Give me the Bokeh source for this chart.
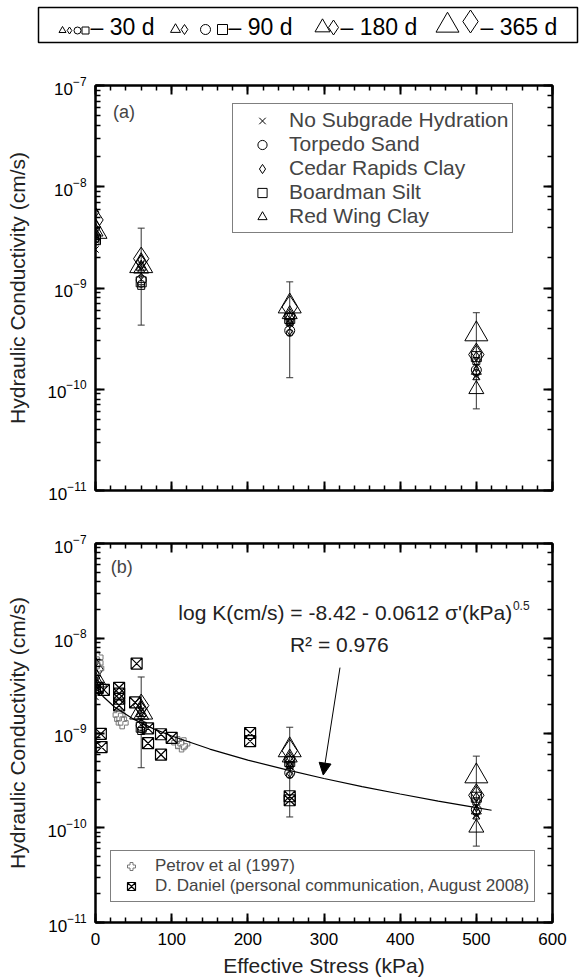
from bokeh.plotting import figure
from bokeh.models import (Range1d, LogAxis, LinearAxis, SingleIntervalTicker, LogTicker,
                          Legend, LegendItem, Label, Arrow, NormalHead, Whisker, TeeHead,
                          ColumnDataSource, CustomJSTickFormatter)
from bokeh.layouts import column
from bokeh.embed import file_html
from bokeh.resources import INLINE

FONT = "Liberation Sans"

# ---------------- data ----------------
stress = [0, 60, 255, 500]
nsh = [2.4e-9, 1.7e-9, 4.4e-10, 1.35e-10]
torpedo_30 = [3.0e-9, 1.1e-9, 3.6e-10, 1.45e-10]
torpedo_90 = [3.2e-9, 1.2e-9, 3.8e-10, 1.55e-10]
cedar_30 = [3.4e-9, 1.3e-9, 3.7e-10, 1.6e-10]
cedar_90 = [5.6e-9, 1.9e-9, 4.5e-10, 2.1e-10]
cedar_180 = [4.0e-9, 1.8e-9, 5.3e-10, 2.3e-10]
cedar_365 = [4.7e-9, 1.95e-9, 6.5e-10, 2.2e-10]
boardman_30 = [2.9e-9, 1.05e-9, 4.6e-10, 1.9e-10]
boardman_90 = [3.0e-9, 1.15e-9, 5.0e-10, 2.1e-10]
redwing_30 = [3.3e-9, 1.5e-9, 4.6e-10, 1.3e-10]
redwing_90 = [3.5e-9, 1.6e-9, 5.2e-10, 1.5e-10]
redwing_180 = [3.6e-9, 1.55e-9, 5.5e-10, 1.0e-10]
redwing_365 = [3.6e-9, 1.65e-9, 6.6e-10, 3.5e-10]

err_stress = [60, 255, 500]
err_low = [4.3e-10, 1.3e-10, 6.4e-11]
err_high = [3.9e-9, 1.15e-9, 5.7e-10]

petrov_stress = [2, 2, 3, 31, 33, 35, 108, 113, 116]
petrov_k = [6.3e-9, 5.5e-9, 4.8e-9, 1.55e-9, 1.4e-9, 1.28e-9, 7.9e-10, 7.3e-10, 7.7e-10]

daniel_stress = [3, 11, 31, 31, 31, 31, 52, 54, 7, 8, 69, 69, 86, 100, 86, 203, 203, 255, 255]
daniel_k = [3.0e-9, 2.85e-9, 3.0e-9, 2.6e-9, 2.3e-9, 1.95e-9, 2.1e-9, 5.4e-9, 9.8e-10, 7.1e-10,
            1.12e-9, 7.8e-10, 9.7e-10, 8.9e-10, 5.9e-10, 1.0e-9, 8.2e-10, 2.15e-10, 1.95e-10]

fit_stress = [5, 10, 25, 50, 75, 100, 150, 200, 250, 300, 350, 400, 450, 500, 520]
fit_k = [2.77e-9, 2.43e-9, 1.88e-9, 1.40e-9, 1.12e-9, 9.29e-10, 6.77e-10, 5.18e-10,
         4.10e-10, 3.31e-10, 2.72e-10, 2.27e-10, 1.91e-10, 1.63e-10, 1.53e-10]

durations = ["30 d", "90 d", "180 d", "365 d"]
dur_size = {"30 d": 7, "90 d": 10, "180 d": 15, "365 d": 23}

series = [
    ("Torpedo Sand", "circle", {"30 d": torpedo_30, "90 d": torpedo_90}),
    ("Cedar Rapids Clay", "diamond", {"30 d": cedar_30, "90 d": cedar_90, "180 d": cedar_180, "365 d": cedar_365}),
    ("Boardman Silt", "square", {"30 d": boardman_30, "90 d": boardman_90}),
    ("Red Wing Clay", "triangle", {"30 d": redwing_30, "90 d": redwing_90, "180 d": redwing_180, "365 d": redwing_365}),
]


def no_frame_align(f):
    if "frame_align" in f.properties():
        f.frame_align = False


def style_axis(ax, labels=True):
    ax.axis_line_width = 2
    ax.major_tick_in = 9
    ax.major_tick_out = 0
    ax.minor_tick_in = 5
    ax.minor_tick_out = 0
    ax.major_tick_line_width = 2
    ax.minor_tick_line_width = 1.5
    ax.major_label_text_font = FONT
    ax.major_label_text_font_size = "17px"
    ax.major_label_text_color = "black"
    ax.axis_label_text_font = FONT
    ax.axis_label_text_font_size = "21px"
    ax.axis_label_text_font_style = "normal"
    ax.axis_label_text_color = "#222222"
    if not labels:
        ax.formatter = CustomJSTickFormatter(code="return ''")
        ax.major_label_standoff = 0


def make_panel(height, top, bottom, xlabels):
    p = figure(width=585, height=height, x_range=Range1d(0, 600), y_range=Range1d(1e-11, 1e-7),
               y_axis_type="log", output_backend="svg", toolbar_location=None,
               min_border_left=95, min_border_right=33, min_border_top=top, min_border_bottom=bottom)
    no_frame_align(p)
    p.grid.visible = False
    p.outline_line_color = "black"
    p.outline_line_width = 2
    p.background_fill_color = "white"
    p.border_fill_color = "white"

    xb = p.xaxis[0]
    xb.ticker = SingleIntervalTicker(interval=100, num_minor_ticks=5)
    style_axis(xb, labels=xlabels)
    if xlabels:
        xb.axis_label = "Effective Stress (kPa)"
        xb.major_label_standoff = 10
        xb.axis_label_standoff = 6

    yl = p.yaxis[0]
    style_axis(yl)
    yl.axis_label = "Hydraulic Conductivity (cm/s)"
    yl.major_label_standoff = 9
    yl.axis_label_standoff = 15

    xt = LinearAxis(ticker=SingleIntervalTicker(interval=100, num_minor_ticks=5))
    style_axis(xt, labels=False)
    p.add_layout(xt, "above")
    yr = LogAxis(ticker=LogTicker())
    style_axis(yr, labels=False)
    p.add_layout(yr, "right")

    wsrc = ColumnDataSource(dict(x=err_stress, lower=err_low, upper=err_high))
    w = Whisker(base="x", lower="lower", upper="upper", source=wsrc, dimension="height",
                line_color="#333333", line_width=1,
                upper_head=TeeHead(size=7, line_color="#333333", line_width=1),
                lower_head=TeeHead(size=7, line_color="#333333", line_width=1))
    w.level = "underlay"
    p.add_layout(w)

    rends = {}
    for name, marker, data in series:
        for d in durations:
            if d in data:
                r = p.scatter(stress, data[d], marker=marker, size=dur_size[d], line_color="black",
                              fill_color=None, line_width=1)
                rends[(name, d)] = r
    r_nsh = p.scatter(stress, nsh, marker="x", size=9, line_color="black", line_width=1)
    rends["nsh"] = r_nsh
    return p, rends


# ---------------- top legend strip ----------------
top = figure(width=585, height=52, x_range=Range1d(0, 585), y_range=Range1d(52, 0),
             output_backend="svg", toolbar_location=None, min_border=0)
no_frame_align(top)
top.axis.visible = False
top.grid.visible = False
top.outline_line_color = None
top.quad(left=[38], right=[577], top=[7], bottom=[42], fill_color=None, line_color="black", line_width=1.5)

lg_groups = [
    ("30 d", [("triangle", 62, 30), ("diamond", 69, 30), ("circle", 77, 30), ("square", 85, 30)], 90),
    ("90 d", [("triangle", 175, 29), ("diamond", 184, 29), ("circle", 205, 29), ("square", 222, 29)], 228),
    ("180 d", [("triangle", 322, 27), ("diamond", 333, 27)], 340),
    ("365 d", [("triangle", 447, 25), ("diamond", 470, 21)], 480),
]
for d, marks, tx in lg_groups:
    for m, mx, my in marks:
        top.scatter([mx], [my], marker=m, size=dur_size[d], line_color="black", fill_color=None, line_width=1)
    top.add_layout(Label(x=tx, y=26, text="\u2013 " + d, text_font=FONT, text_font_size="23px",
                         text_baseline="middle", text_align="left", text_color="black"))

# ---------------- panel (a) ----------------
pa, ra = make_panel(463, 33, 25, False)
items_a = [
    LegendItem(label="No Subgrade Hydration", renderers=[ra["nsh"]]),
    LegendItem(label="Torpedo Sand", renderers=[ra[("Torpedo Sand", "90 d")]]),
    LegendItem(label="Cedar Rapids Clay", renderers=[ra[("Cedar Rapids Clay", "90 d")]]),
    LegendItem(label="Boardman Silt", renderers=[ra[("Boardman Silt", "90 d")]]),
    LegendItem(label="Red Wing Clay", renderers=[ra[("Red Wing Clay", "90 d")]]),
]
leg_a = Legend(items=items_a, location=(137, 257), label_text_font=FONT, label_text_font_size="21px",
               glyph_height=23, glyph_width=50, label_height=22, label_standoff=2, spacing=0,
               padding=4, margin=0, border_line_color="black", border_line_width=1.5,
               background_fill_color="white", background_fill_alpha=1.0)
pa.add_layout(leg_a)
pa.add_layout(Label(x=23, y=5.5e-8, text="(a)", text_font=FONT, text_font_size="18px",
                    text_baseline="middle"))

# ---------------- panel (b) ----------------
pb, rb = make_panel(464, 28, 56, True)
r_pet = pb.scatter(petrov_stress, petrov_k, marker="plus", size=12, line_color="#777777",
                   fill_color="white", fill_alpha=0.0, line_width=1)
r_dan = pb.scatter(daniel_stress, daniel_k, marker="square_x", size=11, line_color="black",
                   fill_color=None, line_width=1.2)
pb.line(fit_stress, fit_k, line_color="black", line_width=1.2)
pb.add_layout(Arrow(end=NormalHead(size=12, fill_color="black", line_color="black"),
                    x_start=321, y_start=4.9e-9, x_end=299, y_end=3.6e-10,
                    line_color="black", line_width=1))
pb.add_layout(Label(x=547, y=1.86e-8, text="log K(cm/s) = -8.42 - 0.0612 \u03c3'(kPa)",
                    text_font=FONT, text_font_size="21px", text_align="right",
                    text_baseline="middle", text_color="#222222"))
pb.add_layout(Label(x=548, y=2.2e-8, text="0.5", text_font=FONT, text_font_size="12px",
                    text_align="left", text_baseline="middle", text_color="#222222"))
pb.add_layout(Label(x=320, y=8.6e-9, text="R\u00b2 = 0.976", text_font=FONT,
                    text_font_size="21px", text_align="center", text_baseline="middle",
                    text_color="#222222"))
pb.add_layout(Label(x=20, y=5.6e-8, text="(b)", text_font=FONT, text_font_size="18px",
                    text_baseline="middle"))
leg_b = Legend(items=[LegendItem(label="Petrov et al (1997)", renderers=[r_pet]),
                      LegendItem(label="D. Daniel (personal communication, August 2008)", renderers=[r_dan])],
               location=(15, 20), label_text_font=FONT, label_text_font_size="17px",
               glyph_height=20, glyph_width=30, label_height=20, label_standoff=9, spacing=0,
               padding=5, margin=0, border_line_color="black", border_line_width=1.5,
               background_fill_color="white", background_fill_alpha=1.0)
pb.add_layout(leg_b)

layout = column(top, pa, pb, spacing=0)
open("out.html", "w").write(file_html(layout, INLINE))
